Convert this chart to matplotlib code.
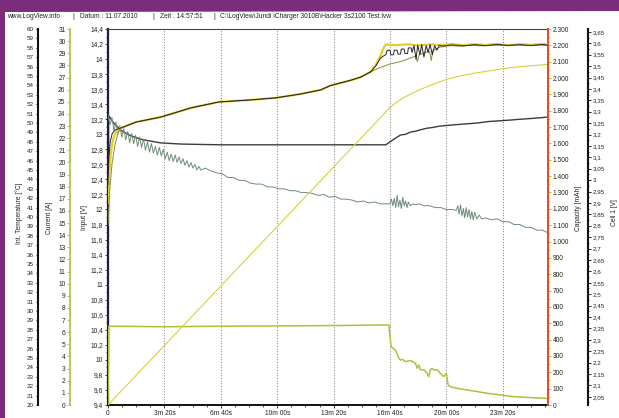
import matplotlib
matplotlib.use("Agg")
import matplotlib.pyplot as plt
import matplotlib.patches as mpatches
from matplotlib.ticker import MultipleLocator, FuncFormatter

plt.rcParams['font.family'] = ['Liberation Sans', 'DejaVu Sans']

# ---------------- data ----------------
header_parts = ["www.LogView.info", "|", "Datum : 11.07.2010", "|", "Zeit : 14:57:51", "|",
                "C:\\LogView\\Jundi iCharger 3010B\\Hacker 3s2100 Test.lvw"]

time_ticks = [0, 200, 400, 600, 800, 1000, 1200, 1400]
time_labels = ["0", "3m 20s", "6m 40s", "10m 00s", "13m 20s", "16m 40s", "20m 00s", "23m 20s"]

# Input voltage [V]
input_t = [0, 2, 20, 46, 81, 120, 188, 260, 400, 600, 800, 985, 1000, 1020, 1037, 1055, 1073, 1090,
           1108, 1130, 1150, 1179, 1210, 1240, 1275, 1310, 1350, 1391, 1430, 1462, 1500, 1533, 1561]
input_v = [9.0, 13.25, 13.15, 13.05, 12.98, 12.93, 12.885, 12.87, 12.86, 12.86, 12.86, 12.86, 12.9,
           12.95, 12.99, 13.0, 13.03, 13.04, 13.06, 13.08, 13.09, 13.11, 13.12, 13.13, 13.14, 13.15,
           13.17, 13.18, 13.19, 13.2, 13.21, 13.22, 13.23]

# Current [A]
current_t = [0, 3, 200, 400, 600, 800, 996, 999, 1004, 1020, 1031, 1037, 1043, 1055, 1073, 1090, 1096,
             1102, 1108, 1120, 1132, 1137, 1143, 1149, 1155, 1167, 1179, 1190, 1200, 1203, 1206, 1214,
             1238, 1273, 1344, 1391, 1437, 1508, 1561]
current_a = [0, 6.5, 6.45, 6.5, 6.52, 6.55, 6.6, 5.8, 4.8, 4.5, 3.86, 3.7, 3.77, 3.58, 3.66, 3.45, 3.03,
             3.3, 2.9, 2.9, 2.6, 2.34, 2.9, 3.03, 2.9, 2.9, 2.6, 2.34, 2.6, 2.07, 1.65, 1.5, 1.37, 1.24,
             0.97, 0.83, 0.69, 0.6, 0.54]

# Capacity [mAh]
cap_t = [0, 1000, 1020, 1050, 1100, 1150, 1200, 1250, 1300, 1391, 1450, 1533, 1561]
cap_mah = [0, 1820, 1848, 1882, 1925, 1960, 1992, 2013, 2030, 2055, 2068, 2080, 2084]

# Int. temperature [°C], in segments
temp_early_t = [0, 7, 14, 21, 28, 35, 42, 49, 56, 63, 70, 77, 84, 91, 98, 105, 112, 119, 126, 133, 140,
                147, 154, 161, 168, 175, 182, 189, 196, 203, 210, 217, 224, 231, 238, 245, 252, 259,
                266, 273, 280, 287, 294, 301, 308, 315, 322, 329]
temp_early_c = [50.9, 49.8, 50.6, 49.2, 50.1, 48.9, 49.7, 48.5, 49.4, 48.2, 49.1, 47.9, 48.9, 47.8,
                48.7, 47.5, 48.5, 47.4, 48.3, 47.1, 48.0, 46.9, 47.8, 46.8, 47.5, 46.6, 47.4, 46.5,
                47.2, 46.2, 46.9, 46.0, 46.7, 45.9, 46.6, 45.8, 46.4, 45.7, 46.2, 45.5, 46.0, 45.3,
                45.8, 45.2, 45.6, 45.0, 45.4, 45.0]
temp_mid_t = [345, 365, 385, 405, 425, 445, 465, 485, 505, 525, 545, 565, 585, 605, 625, 645, 665, 685,
              705, 725, 745, 765, 785, 805, 825, 845, 865, 885, 905, 925, 945, 965, 985]
temp_mid_c = [45.2, 44.9, 44.7, 44.6, 44.2, 44.2, 43.9, 43.9, 43.6, 43.5, 43.5, 43.2, 43.2, 43.0, 43.0,
              42.8, 42.8, 42.6, 42.6, 42.5, 42.3, 42.4, 42.1, 42.2, 41.9, 41.9, 41.8, 41.6, 41.7, 41.5,
              41.6, 41.4, 41.4]
temp_bump1_t = [1000, 1005, 1010, 1015, 1020, 1025, 1030, 1035, 1040, 1045, 1050, 1055, 1060, 1065,
                1072, 1080, 1090]
temp_bump1_c = [41.4, 41.9, 41.2, 42.0, 41.0, 42.3, 41.1, 41.8, 40.9, 42.1, 41.2, 41.7, 41.0, 41.6,
                41.2, 41.4, 41.3]
temp_mid2_t = [1105, 1120, 1140, 1160, 1180, 1200, 1220]
temp_mid2_c = [41.4, 41.2, 41.2, 41.0, 41.0, 40.8, 40.8]
temp_bump2_t = [1235, 1240, 1245, 1250, 1255, 1260, 1265, 1270, 1275, 1280, 1285, 1290, 1295, 1300,
                1308, 1316, 1325]
temp_bump2_c = [40.7, 41.2, 40.3, 41.3, 40.1, 40.9, 39.9, 41.0, 40.0, 40.8, 39.8, 40.6, 39.7, 40.5,
                39.8, 40.2, 39.8]
temp_tail_t = [1340, 1360, 1380, 1400, 1420, 1440, 1460, 1480, 1500, 1520, 1540, 1561]
temp_tail_c = [39.9, 39.7, 39.8, 39.5, 39.5, 39.2, 39.2, 38.9, 38.9, 38.6, 38.6, 38.3]

# Cell voltages [V]
cell_mid_t = [46, 100, 188, 294, 393, 506, 595, 683, 754, 789, 860, 896, 931]
cell_mid_v = [3.229, 3.255, 3.277, 3.317, 3.343, 3.352, 3.361, 3.378, 3.396, 3.415, 3.438, 3.452, 3.475]

cellA_start_t = [0, 4, 10, 18, 28, 38]
cellA_start_v = [2.90, 3.02, 3.12, 3.18, 3.21, 3.224]
cellA_end_t = [949, 966, 977, 985, 1020, 1060, 1100, 1140, 1180, 1220, 1260, 1300, 1340, 1380, 1420,
               1460, 1500, 1540, 1561]
cellA_end_v = [3.505, 3.545, 3.58, 3.595, 3.592, 3.596, 3.591, 3.595, 3.593, 3.597, 3.592, 3.596,
               3.593, 3.597, 3.592, 3.596, 3.594, 3.597, 3.595]

cellB_start_t = [0, 3, 8, 15, 25, 38]
cellB_start_v = [2.98, 3.10, 3.17, 3.205, 3.22, 3.226]
cellB_end_t = [949, 966, 977, 985, 990, 1000, 1003, 1012, 1015, 1025, 1028, 1037, 1040, 1050, 1053,
               1062, 1065, 1075, 1078, 1085, 1092, 1098, 1106, 1112, 1120, 1128, 1135, 1142, 1150,
               1158, 1166, 1175, 1185, 1220, 1260, 1300, 1340, 1380, 1420, 1460, 1500, 1540, 1561]
cellB_end_v = [3.500, 3.535, 3.545, 3.55, 3.57, 3.57, 3.55, 3.55, 3.57, 3.57, 3.553, 3.553, 3.575,
               3.575, 3.555, 3.555, 3.58, 3.58, 3.56, 3.59, 3.53, 3.592, 3.55, 3.595, 3.54, 3.59,
               3.56, 3.595, 3.55, 3.59, 3.57, 3.592, 3.588, 3.593, 3.589, 3.594, 3.59, 3.595, 3.591,
               3.594, 3.59, 3.595, 3.592]

cellC_start_t = [0, 6, 14, 24, 34, 42]
cellC_start_v = [2.80, 2.95, 3.07, 3.15, 3.20, 3.222]
cellC_end_t = [949, 966, 1002, 1037, 1073, 1092, 1097, 1103, 1125, 1140, 1146, 1152, 1179, 1210, 1250,
               1290, 1330, 1370, 1410, 1450, 1490, 1530, 1561]
cellC_end_v = [3.485, 3.495, 3.51, 3.52, 3.536, 3.545, 3.52, 3.55, 3.56, 3.565, 3.525, 3.57, 3.584,
               3.59, 3.588, 3.592, 3.589, 3.593, 3.59, 3.594, 3.591, 3.593, 3.591]

# ---------------- layout ----------------
W, H = 619, 418
PL, PT, PR, PB = 108, 29, 548, 405   # plot frame in pixels

fig = plt.figure(figsize=(W / 100, H / 100), dpi=100)
fig.patch.set_facecolor('#7b2c7c')
fig.patches.append(mpatches.Polygon([(5 / W, 1 - 12 / H), (1, 1 - 11 / H), (1, 0), (5 / W, 0)],
                                    closed=True, transform=fig.transFigure,
                                    facecolor='white', edgecolor='none', zorder=-5))

ax = fig.add_axes([PL / W, 1 - PB / H, (PR - PL) / W, (PB - PT) / H])
ax.set_facecolor('white')

ax_cur = ax.twinx()
ax_temp = ax.twinx()
ax_cap = ax.twinx()
ax_cell = ax.twinx()

FS = 4.8
TXT = '#222222'


def comma_fmt(dec):
    def f(v, pos):
        s = f"{v:.{dec}f}".rstrip('0').rstrip('.')
        return s.replace('.', ',')
    return FuncFormatter(f)


def thousands_fmt(v, pos):
    return f"{int(round(v)):,}".replace(',', '.')


# host: time + input voltage
ax.set_xlim(0, 1560)
ax.set_ylim(9.4, 14.4)
ax.set_xticks(time_ticks)
ax.set_xticklabels(time_labels)
ax.xaxis.set_minor_locator(MultipleLocator(50))
ax.yaxis.set_major_locator(MultipleLocator(0.2))
ax.yaxis.set_minor_locator(MultipleLocator(0.1))
ax.yaxis.set_major_formatter(comma_fmt(1))
ax.tick_params(axis='both', which='major', length=2.2, width=0.6, pad=1.2, labelsize=FS, colors=TXT)
ax.tick_params(axis='both', which='minor', length=1.2, width=0.5)
ax.grid(axis='x', which='major', color='#555555', linestyle=(0, (1, 2.2)), linewidth=0.6)
ax.spines['left'].set_color('#1c1c48')
ax.spines['left'].set_linewidth(1.6)
ax.spines['bottom'].set_color('#111111')
ax.spines['bottom'].set_linewidth(1.4)
ax.spines['top'].set_color('#444444')
ax.spines['top'].set_linewidth(0.8)
ax.spines['right'].set_visible(False)

# current axis (left, offset)
ax_cur.set_ylim(0, 31)
for s in ('right', 'top', 'bottom'):
    ax_cur.spines[s].set_visible(False)
ax_cur.spines['left'].set_visible(True)
ax_cur.spines['left'].set_position(('axes', (70 - PL) / (PR - PL)))
ax_cur.spines['left'].set_color('#a8c23e')
ax_cur.spines['left'].set_linewidth(1.2)
ax_cur.yaxis.tick_left()
ax_cur.yaxis.set_major_locator(MultipleLocator(1))
ax_cur.tick_params(axis='y', length=2.0, width=0.6, pad=1.2, labelsize=FS, labelcolor=TXT, color='#a8c23e')

# temperature axis (left, further offset)
ax_temp.set_ylim(20, 60)
for s in ('right', 'top', 'bottom'):
    ax_temp.spines[s].set_visible(False)
ax_temp.spines['left'].set_visible(True)
ax_temp.spines['left'].set_position(('axes', (38 - PL) / (PR - PL)))
ax_temp.spines['left'].set_color('#111111')
ax_temp.spines['left'].set_linewidth(1.5)
ax_temp.yaxis.tick_left()
ax_temp.yaxis.set_major_locator(MultipleLocator(1))
ax_temp.tick_params(axis='y', length=1.8, width=0.6, pad=1.2, labelsize=FS - 0.3, labelcolor=TXT)

# capacity axis (right)
ax_cap.set_ylim(0, 2300)
for s in ('left', 'top', 'bottom'):
    ax_cap.spines[s].set_visible(False)
ax_cap.spines['right'].set_color('#e0502a')
ax_cap.spines['right'].set_linewidth(1.5)
ax_cap.yaxis.set_major_locator(MultipleLocator(100))
ax_cap.yaxis.set_minor_locator(MultipleLocator(50))
ax_cap.yaxis.set_major_formatter(FuncFormatter(thousands_fmt))
ax_cap.tick_params(axis='y', which='major', length=2.2, width=0.7, pad=1.2, labelsize=FS,
                   labelcolor=TXT, color='#d8b020')
ax_cap.tick_params(axis='y', which='minor', length=1.2, width=0.5, color='#d8b020')

# cell axis (right, offset)
ax_cell.set_ylim(2.014, 3.663)
for s in ('left', 'top', 'bottom'):
    ax_cell.spines[s].set_visible(False)
ax_cell.spines['right'].set_position(('axes', (588 - PL) / (PR - PL)))
ax_cell.spines['right'].set_color('#111111')
ax_cell.spines['right'].set_linewidth(1.5)
ax_cell.yaxis.set_major_locator(MultipleLocator(0.05))
ax_cell.yaxis.set_minor_locator(MultipleLocator(0.025))
ax_cell.yaxis.set_major_formatter(comma_fmt(2))
ax_cell.tick_params(axis='y', which='major', length=2.0, width=0.6, pad=1.2, labelsize=FS - 0.3,
                    labelcolor=TXT)
ax_cell.tick_params(axis='y', which='minor', length=1.0, width=0.5)

# ---------------- series ----------------
temp_t = temp_early_t + temp_mid_t + temp_bump1_t + temp_mid2_t + temp_bump2_t + temp_tail_t
temp_c = temp_early_c + temp_mid_c + temp_bump1_c + temp_mid2_c + temp_bump2_c + temp_tail_c

ax_cap.plot(cap_t, cap_mah, color='#d6d23c', lw=0.8)
ax_cur.plot(current_t, current_a, color='#a9c43a', lw=1.1)
ax_temp.plot(temp_t, temp_c, color='#6e8c78', lw=0.7)
ax.plot(input_t, input_v, color='#3c3c3c', lw=1.0)

ax_cell.plot(cellA_start_t + cell_mid_t + cellA_end_t, cellA_start_v + cell_mid_v + cellA_end_v,
             color='#e4d028', lw=1.6)
ax_cell.plot(cellC_start_t + cell_mid_t + cellC_end_t, cellC_start_v + cell_mid_v + cellC_end_v,
             color='#8d8a3a', lw=0.7)
ax_cell.plot(cellB_start_t + cell_mid_t + cellB_end_t, cellB_start_v + cell_mid_v + cellB_end_v,
             color='#262626', lw=0.7)

# ---------------- texts ----------------
def vlabel(x, y, s):
    fig.text(x / W, 1 - y / H, s, rotation=90, ha='center', va='center', fontsize=FS, color=TXT)


vlabel(19, 213, "Int. Temperature [°C]")
vlabel(49, 218, "Current [A]")
vlabel(84, 217, "Input [V]")
vlabel(578, 208, "Capacity [mAh]")
vlabel(614, 213, "Cell 1 [V]")

header_x = [7, 72, 80, 152, 160, 213, 220]
for s, x in zip(header_parts, header_x):
    fig.text(x / W, 1 - 16.5 / H, s, ha='left', va='center', fontsize=FS, color=TXT)

fig.savefig("out.png", dpi=100, facecolor=fig.get_facecolor())
